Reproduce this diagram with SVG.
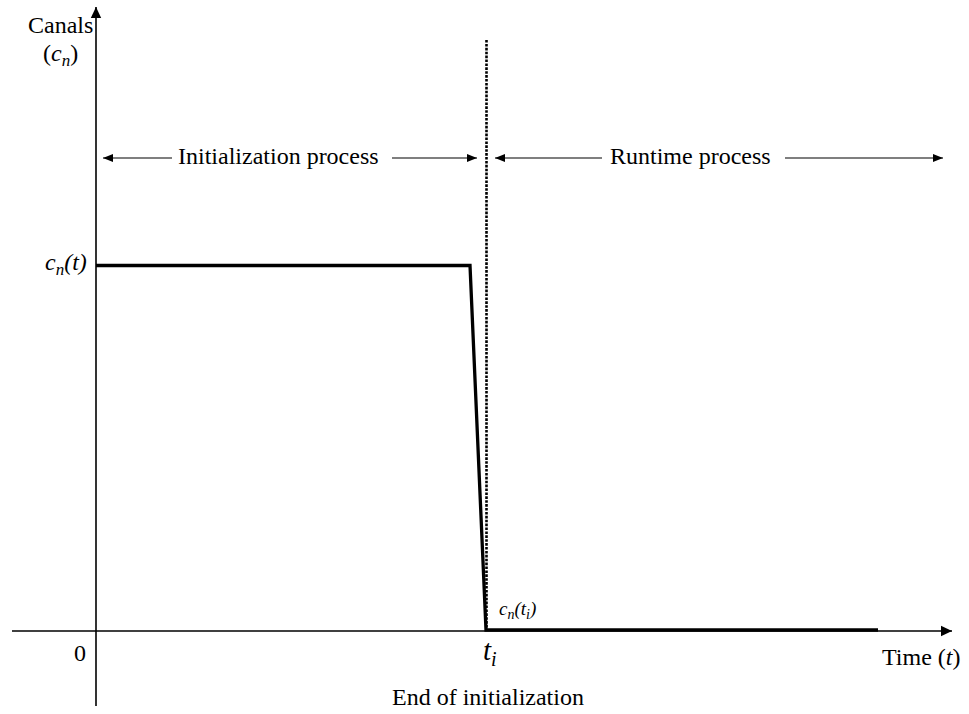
<svg xmlns="http://www.w3.org/2000/svg" width="969" height="714" viewBox="0 0 969 714">
  <style>
    .lbl { font-size: 24px; }
    .it { font-style: italic; }
    .axis { stroke: #000; stroke-width: 1.6; fill: none; }
    .span { stroke: #000; stroke-width: 1.2; fill: none; }
    .signal { stroke: #000; stroke-width: 3.3; fill: none; stroke-linejoin: miter; }
    .marker-line { stroke: #000; stroke-width: 2.6; stroke-dasharray: 2.6 1.3; fill: none; }
  </style>
  <defs>
    <marker id="axisHead" markerUnits="userSpaceOnUse" markerWidth="12" markerHeight="12" viewBox="0 0 12 12" refX="11" refY="6" orient="auto">
      <path d="M0,0.8 L11,6 L0,11.2 Z" fill="#000"/>
    </marker>
    <marker id="spanHead" markerUnits="userSpaceOnUse" markerWidth="11" markerHeight="9" viewBox="0 0 11 9" refX="10" refY="4.5" orient="auto-start-reverse">
      <path d="M0,0.6 L10,4.5 L0,8.4 Z" fill="#000"/>
    </marker>
  </defs>

  <!-- axes -->
  <g id="axes">
    <line class="axis" x1="96" y1="706" x2="96" y2="7" marker-end="url(#axisHead)"/>
    <line class="axis" x1="12" y1="631" x2="952" y2="631" marker-end="url(#axisHead)"/>
  </g>

  <!-- end-of-initialization boundary -->
  <g id="boundary">
    <line class="marker-line" x1="486.5" y1="40" x2="486.5" y2="631"/>
  </g>

  <!-- channel count over time -->
  <g id="signal">
    <polyline class="signal" points="96,265.5 470,265.5 486,630 878,630"/>
  </g>

  <!-- phase spans -->
  <g id="connectors">
    <line class="span" x1="103" y1="158" x2="172" y2="158" marker-start="url(#spanHead)"/>
    <line class="span" x1="392" y1="158" x2="477" y2="158" marker-end="url(#spanHead)"/>
    <line class="span" x1="495" y1="158" x2="602" y2="158" marker-start="url(#spanHead)"/>
    <line class="span" x1="785" y1="158" x2="943" y2="158" marker-end="url(#spanHead)"/>
  </g>

  <g font-family="'Liberation Serif', 'Times New Roman', Times, serif" fill="#000">
    <g id="phase-init">
      <text class="lbl" x="178" y="164">Initialization process</text>
    </g>
    <g id="phase-runtime">
      <text class="lbl" x="610" y="164">Runtime process</text>
    </g>

    <!-- axis labels -->
    <g id="y-label">
      <text class="lbl" x="28" y="33">Canals</text>
      <text class="lbl" x="43" y="61">(<tspan class="it">c</tspan><tspan class="it" font-size="17" dy="5">n</tspan><tspan dy="-5">)</tspan></text>
    </g>
    <g id="level-label">
      <text class="lbl it" x="45" y="270">c<tspan font-size="17" dy="5">n</tspan><tspan dy="-5">(t)</tspan></text>
    </g>
    <g id="origin-label">
      <text class="lbl" x="74" y="661">0</text>
    </g>
    <g id="x-label">
      <text class="lbl" x="882" y="665">Time (<tspan class="it">t</tspan>)</text>
    </g>
    <g id="ti-label">
      <text class="it" font-size="29" x="483" y="660">t<tspan font-size="20" dy="6">i</tspan></text>
    </g>
    <g id="cnti-label">
      <text class="it" font-size="19" x="499" y="615">c<tspan font-size="14" dy="4">n</tspan><tspan dy="-4">(t</tspan><tspan font-size="14" dy="4">i</tspan><tspan dy="-4">)</tspan></text>
    </g>
    <g id="end-label">
      <text class="lbl" x="392" y="705">End of initialization</text>
    </g>
  </g>
</svg>
